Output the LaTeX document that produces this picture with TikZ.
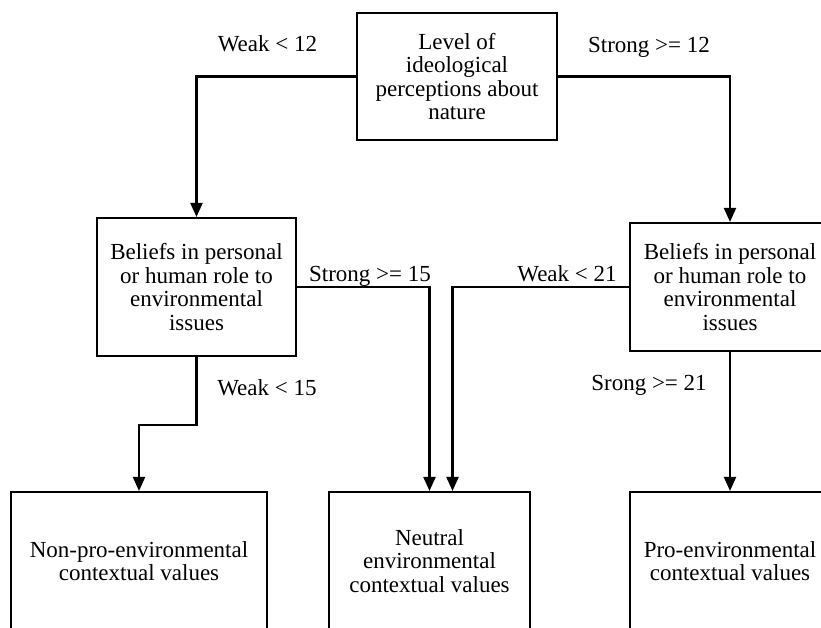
\documentclass[tikz,border=0pt]{standalone}
\usepackage{fontspec}
\setmainfont{Liberation Serif}
\usetikzlibrary{arrows.meta}
\begin{document}
\begin{tikzpicture}[x=1pt,y=-1pt,
  box/.style={draw,line width=2.1pt,align=center,inner sep=0pt,font=\fontsize{23}{23.5}\selectfont},
  lbl/.style={font=\fontsize{23}{23.5}\selectfont,anchor=base,inner sep=0pt},
  arr/.style={line width=2.1pt,-{Triangle[length=14pt,width=12pt]}}]
\useasboundingbox (0,0) rectangle (821,628);
\node[box,minimum width=200pt,minimum height=127pt] (top) at (457,76.5) {Level of\\ideological\\perceptions about\\nature};
\node[box,minimum width=199pt,minimum height=138pt] (lmid) at (196.5,287) {Beliefs in personal\\or human role to\\environmental\\issues};
\node[box,minimum width=200pt,minimum height=128pt] (rmid) at (730,287) {Beliefs in personal\\or human role to\\environmental\\issues};
\node[box,minimum width=256pt,minimum height=138pt] (nonpro) at (139,561) {Non-pro-environmental\\contextual values};
\node[box,minimum width=201pt,minimum height=138pt] (neutral) at (429.5,561) {Neutral\\environmental\\contextual values};
\node[box,minimum width=200pt,minimum height=138pt] (pro) at (730,561) {Pro-environmental\\contextual values};
\draw[arr] (top.west) -| (lmid.north);
\draw[arr] (top.east) -| (rmid.north);
\draw[arr] (lmid.east) -| (neutral.north);
\draw[arr] (rmid.west) -| ([xshift=23pt]neutral.north);
\draw[arr] (lmid.south) -- ++(0,68) -| (nonpro.north);
\draw[arr] (rmid.south) -- (pro.north);
\node[lbl] (l1) at (267.5,52) {Weak < 12};
\node[lbl] (l2) at (649,53) {Strong >= 12};
\node[lbl] (l3) at (370,281) {Strong >= 15};
\node[lbl] (l4) at (567,281) {Weak < 21};
\node[lbl] (l5) at (267,395) {Weak < 15};
\node[lbl] (l6) at (649,390) {Srong >= 21};
\end{tikzpicture}
\end{document}
